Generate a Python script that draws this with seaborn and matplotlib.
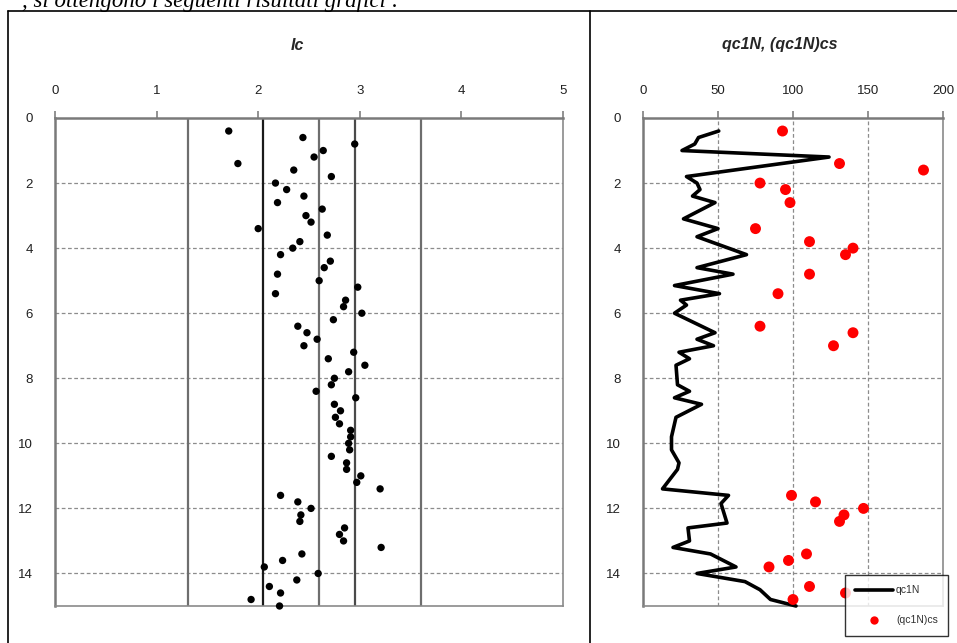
import matplotlib
matplotlib.use("Agg")
import matplotlib.pyplot as plt
import seaborn as sns
import pandas as pd
from matplotlib.lines import Line2D

# ---------------- data ----------------
ic_depth = [0.4, 0.6, 0.8, 1.0, 1.2, 1.4, 1.6, 1.8, 2.0, 2.2, 2.4, 2.6, 2.8, 3.0, 3.2,
            3.4, 3.6, 3.8, 4.0, 4.2, 4.4, 4.6, 4.8, 5.0, 5.2, 5.4, 5.6, 5.8, 6.0, 6.2,
            6.4, 6.6, 6.8, 7.0, 7.2, 7.4, 7.6, 7.8, 8.0, 8.2, 8.4, 8.6, 8.8, 9.0, 9.2,
            9.4, 9.6, 9.8, 10.0, 10.2, 10.4, 10.6, 10.8, 11.0, 11.2, 11.4, 11.6, 11.8,
            12.0, 12.2, 12.4, 12.6, 12.8, 13.0, 13.2, 13.4, 13.6, 13.8, 14.0, 14.2,
            14.4, 14.6, 14.8, 15.0]
ic_values = [1.71, 2.44, 2.95, 2.64, 2.55, 1.80, 2.35, 2.72, 2.17, 2.28, 2.45, 2.19, 2.63,
             2.47, 2.52, 2.00, 2.68, 2.41, 2.34, 2.22, 2.71, 2.65, 2.19, 2.60, 2.98, 2.17,
             2.86, 2.84, 3.02, 2.74, 2.39, 2.48, 2.58, 2.45, 2.94, 2.69, 3.05, 2.89, 2.75,
             2.72, 2.57, 2.96, 2.75, 2.81, 2.76, 2.80, 2.91, 2.91, 2.89, 2.90, 2.72, 2.87,
             2.87, 3.01, 2.97, 3.20, 2.22, 2.39, 2.52, 2.42, 2.41, 2.85, 2.80, 2.84, 3.21,
             2.43, 2.24, 2.06, 2.59, 2.38, 2.11, 2.22, 1.93, 2.21]
ic_boundaries = [1.31, 2.05, 2.6, 2.95, 3.6]

qc1n_depth = [0.4, 0.6, 0.8, 1.0, 1.2, 1.8, 2.0, 2.2, 2.4, 2.6, 3.1, 3.4, 3.65, 4.2, 4.6,
              4.8, 5.15, 5.4, 5.6, 5.75, 6.0, 6.6, 6.8, 7.0, 7.2, 7.4, 7.6, 8.2, 8.4, 8.6,
              8.8, 9.2, 9.8, 10.2, 10.6, 10.8, 11.4, 11.6, 11.85, 12.0, 12.45, 12.6, 13.0,
              13.2, 13.4, 13.8, 14.0, 14.25, 14.5, 14.8, 15.0]
qc1n_values = [50.5, 37, 34.5, 26, 124, 29, 36, 38, 33, 48, 27, 50, 36, 69, 36,
               60, 21, 51, 25, 29, 21, 48, 36, 47, 24, 31, 22, 23, 31, 21,
               39, 22, 19, 19, 24, 23, 13, 57, 52, 53, 56, 30, 31,
               20, 45, 62, 36, 68, 78, 85, 102]

qcs_depth = [0.4, 1.4, 1.6, 2.0, 2.2, 2.6, 3.4, 3.8, 4.0, 4.2, 4.8, 5.4, 6.4, 6.6, 7.0,
             11.6, 11.8, 12.0, 12.2, 12.4, 13.4, 13.6, 13.8, 14.4, 14.6, 14.8]
qcs_values = [93, 131, 187, 78, 95, 98, 75, 111, 140, 135, 111, 90, 78, 140, 127,
              99, 115, 147, 134, 131, 109, 97, 84, 111, 135, 100]

depth_ticks = [0, 2, 4, 6, 8, 10, 12, 14]
ic_ticks = [0, 1, 2, 3, 4, 5]
qc_ticks = [0, 50, 100, 150, 200]

left_title = "Ic"
right_title = "qc1N, (qc1N)cs"
top_text = ", si ottengono i seguenti risultati grafici :"

# ---------------- style ----------------
sns.set_theme(style="white")
plt.rcParams['font.family'] = ['Liberation Sans', 'DejaVu Sans']

W, H = 957, 643
fig = plt.figure(figsize=(W / 100, H / 100), dpi=100)
fig.patch.set_facecolor("white")


def fx(px):
    return px / W


def fy(py):
    return 1 - py / H


ax1 = fig.add_axes([fx(55), fy(606), fx(563 - 55), (606 - 118) / H])
ax2 = fig.add_axes([fx(643), fy(606), fx(943 - 643), (606 - 118) / H])

df_ic = pd.DataFrame({"depth": ic_depth, "Ic": ic_values})
df_qc = pd.DataFrame({"depth": qc1n_depth, "qc1N": qc1n_values})
df_cs = pd.DataFrame({"depth": qcs_depth, "qcs": qcs_values})

grid_kw = dict(color="#8c8c8c", lw=0.9, ls=(0, (3, 2)), zorder=1)


def style_axes(ax, xlim, xticks):
    ax.set_xlim(*xlim)
    ax.set_ylim(15, 0)
    ax.set_xticks(xticks)
    ax.set_yticks(depth_ticks)
    ax.xaxis.tick_top()
    ax.xaxis.set_label_position("top")
    ax.tick_params(axis="both", which="both", direction="out", length=5, width=1.2,
                   color="#7f7f7f", labelsize=9.5, labelcolor="#202020")
    ax.tick_params(axis="x", pad=10)
    ax.tick_params(axis="y", pad=11)
    for s in ax.spines.values():
        s.set_visible(True)
        s.set_color("#8a8a8a")
        s.set_linewidth(1.2)
    for side in ("left", "top"):
        ax.spines[side].set_color("#7a7a7a")
        ax.spines[side].set_linewidth(1.8)
    for d in depth_ticks[1:]:
        ax.axhline(d, **grid_kw)
    ax.set_xlabel("")
    ax.set_ylabel("")


# -------- left chart: Ic --------
style_axes(ax1, (0, 5), ic_ticks)
bcolors = ["#6e6e6e", "#1a1a1a", "#6e6e6e", "#4a4a4a", "#6e6e6e"]
for b, c in zip(ic_boundaries, bcolors):
    ax1.axvline(b, color=c, lw=1.6, zorder=1.5)
sns.scatterplot(data=df_ic, x="Ic", y="depth", ax=ax1, color="black", s=28,
                edgecolor="none", zorder=3, clip_on=False, legend=False)
ax1.set_xlabel("")
ax1.set_ylabel("")
fig.text(fx(297), fy(45), left_title, ha="center", va="center", fontsize=11.5,
         fontweight="bold", fontstyle="italic")

# -------- right chart: qc1N --------
style_axes(ax2, (0, 200), qc_ticks)
for v in qc_ticks[1:-1]:
    ax2.axvline(v, **grid_kw)
sns.lineplot(data=df_qc, x="qc1N", y="depth", ax=ax2, sort=False, estimator=None,
             color="black", lw=2.6, zorder=3, clip_on=False, label="qc1N")
sns.scatterplot(data=df_cs, x="qcs", y="depth", ax=ax2, color="#ff0000", s=62,
                edgecolor="none", zorder=4, clip_on=False, label="(qc1N)cs")
ax2.set_xlabel("")
ax2.set_ylabel("")
ax2.get_legend().remove()
fig.text(fx(780), fy(45), right_title, ha="center", va="center", fontsize=11.5,
         fontweight="bold", fontstyle="italic")

handles = [Line2D([0], [0], color="black", lw=2.6),
           Line2D([0], [0], marker="o", color="none", markerfacecolor="#ff0000",
                  markeredgecolor="none", markersize=6)]
leg = fig.legend(handles, ["qc1N", "(qc1N)cs"], loc="upper left",
                 bbox_to_anchor=(fx(845), fy(575)), bbox_transform=fig.transFigure,
                 frameon=True, fancybox=False, edgecolor="black", fontsize=7.5,
                 handlelength=3.6, labelspacing=1.9, borderpad=1.0, handletextpad=0.3,
                 borderaxespad=0)
leg.get_frame().set_linewidth(1.0)
leg.get_frame().set_facecolor("white")
leg.set_zorder(10)
for t in leg.get_texts():
    t.set_color("#303030")

# -------- page elements --------
fig.text(fx(22), fy(1), top_text, ha="left", va="center", fontsize=16.5,
         fontstyle="italic", family=["Liberation Serif", "DejaVu Serif"], color="black")
for (x0, y0, x1, y1) in [(8, 11, 8, 643), (8, 11, 957, 11), (590, 11, 590, 643)]:
    fig.add_artist(Line2D([fx(x0), fx(x1)], [fy(y0), fy(y1)], color="black", lw=1.2,
                          transform=fig.transFigure))

fig.savefig("out.png", dpi=100)
